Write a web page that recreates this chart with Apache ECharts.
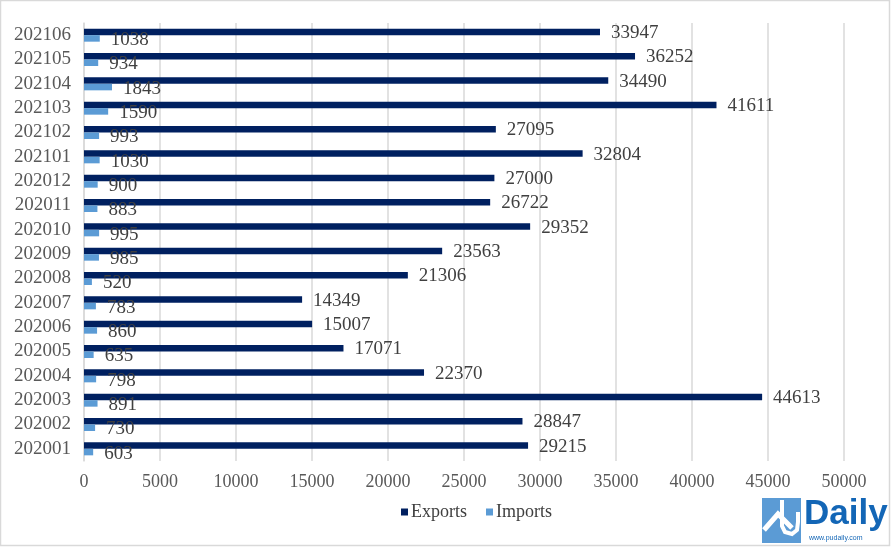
<!DOCTYPE html>
<html>
<head>
<meta charset="utf-8">
<script src="https://cdn.jsdelivr.net/npm/echarts@6/dist/echarts.min.js"></script>
<style>
html,body{margin:0;padding:0;background:#fff;}
#main{width:891px;height:547px;}
</style>
</head>
<body>
<div id="main"></div>
<script>
var categories = ['202001','202002','202003','202004','202005','202006','202007','202008','202009','202010','202011','202012','202101','202102','202103','202104','202105','202106'];
var exportsData = [29215,28847,44613,22370,17071,15007,14349,21306,23563,29352,26722,27000,32804,27095,41611,34490,36252,33947];
var importsData = [603,730,891,798,635,860,783,520,985,995,883,900,1030,993,1590,1843,934,1038];
var xTicks = {min:0, max:50000, interval:5000};

var serif = '"Liberation Serif", "DejaVu Serif", serif';
var chart = echarts.init(document.getElementById('main'));
chart.setOption({
  animation:false,
  backgroundColor:'#fff',
  grid:{left:84, right:47, top:23, bottom:86, containLabel:false},
  legend:{
    data:['Exports','Imports'],
    left:396, top:498,
    itemWidth:7, itemHeight:7, itemGap:19,
    icon:'rect',
    textStyle:{fontFamily:serif, fontSize:18, color:'#404040', padding:[0,0,0,-2]}
  },
  xAxis:{
    type:'value', min:xTicks.min, max:xTicks.max, interval:xTicks.interval,
    axisLine:{show:false}, axisTick:{show:false},
    splitLine:{show:true, lineStyle:{color:'#d9d9d9', width:1.5}},
    axisLabel:{fontFamily:serif, fontSize:18, color:'#595959', margin:12,
      formatter:function(v){return String(v);}}
  },
  yAxis:{
    type:'category', data:categories,
    axisLine:{show:true, lineStyle:{color:'#d9d9d9', width:1.5}},
    axisTick:{show:false},
    axisLabel:{interval:0, fontFamily:serif, fontSize:19, color:'#595959', margin:13}
  },
  series:[
    {name:'Exports', type:'bar', data:exportsData, barWidth:6.5, barGap:'0%',
     itemStyle:{color:'#002060'},
     label:{show:true, position:'right', distance:11, fontFamily:serif, fontSize:19, color:'#404040', offset:[0,1]}},
    {name:'Imports', type:'bar', data:importsData, barWidth:6.5, barGap:'0%',
     itemStyle:{color:'#5B9BD5'},
     label:{show:true, position:'right', distance:11, fontFamily:serif, fontSize:19, color:'#404040', offset:[0,1.5]}}
  ],
  graphic:[
    {type:'rect', shape:{x:0.5,y:0.5,width:889,height:545}, style:{fill:'none', stroke:'#d9d9d9', lineWidth:1.5}, silent:true},
    {type:'rect', shape:{x:762,y:498,width:39,height:45}, style:{fill:'#5B9BD5'}, silent:true},
    {type:'polyline', shape:{points:[[764,530],[778,514],[792,528]]}, style:{stroke:'#fff', lineWidth:5, fill:'none'}, silent:true},
    {type:'polyline', shape:{points:[[782,500],[782,526],[785,532],[792,534],[797,530],[798,522],[798,512]]}, style:{stroke:'#fff', lineWidth:4, fill:'none'}, silent:true},
    {type:'text', x:804, y:497, style:{text:'Daily', font:'bold 35px "Liberation Sans", Arial, sans-serif', fill:'#1366b6'}, silent:true},
    {type:'text', x:809, y:535, style:{text:'www.pudaily.com', font:'7px "Liberation Sans", Arial, sans-serif', fill:'#1366b6'}, silent:true}
  ]
});
</script>
</body>
</html>
